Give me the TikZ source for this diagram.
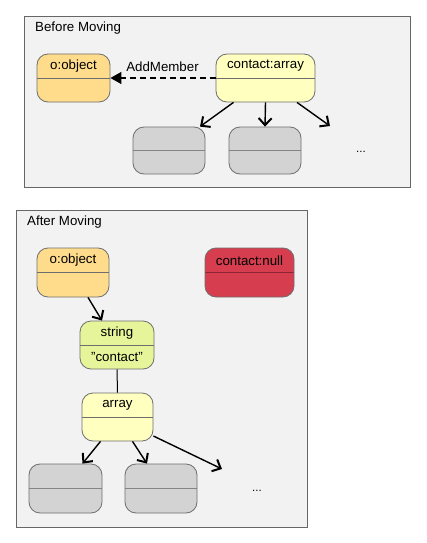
\documentclass[tikz,border=0pt]{standalone}
\usepackage{fontspec}
\setmainfont{Liberation Sans}
\usetikzlibrary{arrows.meta}
\definecolor{framefill}{HTML}{F2F2F2}
\definecolor{framedraw}{HTML}{666666}
\definecolor{boxdraw}{HTML}{6E6E6E}
\definecolor{orangefill}{HTML}{FFDC8C}
\definecolor{yellowfill}{HTML}{FFFFC0}
\definecolor{grayfill}{HTML}{D3D3D3}
\definecolor{redfill}{HTML}{D63E4F}
\definecolor{reddiv}{HTML}{8E2433}
\definecolor{greenfill}{HTML}{E6F59A}
\definecolor{divgray}{HTML}{858585}
\begin{document}
\begin{tikzpicture}[x=1pt,y=-1pt,
  frame/.style={draw=framedraw, fill=framefill, line width=0.8pt},
  title/.style={anchor=west, inner sep=0pt, font=\fontsize{13.3}{15}\selectfont},
  box/.style={draw=boxdraw, fill=#1, rounded corners=11pt, minimum height=48pt, inner sep=0pt, line width=0.8pt},
  divider/.style={path picture={\draw[#1, line width=1pt] (path picture bounding box.west) -- (path picture bounding box.east);}},
  lbl/.style={inner sep=0pt, font=\fontsize{13.3}{15}\selectfont},
  conn/.style={line width=1.4pt, -{Straight Barb[length=7pt,width=13pt,line width=2pt]}},
  plain/.style={line width=1pt},
  dots/.style={inner sep=0pt, font=\fontsize{11.5}{13}\selectfont}
]
\useasboundingbox (0,0) rectangle (427,543);

% ---------- Before Moving ----------
\node[frame, minimum width=386pt, minimum height=171pt, inner sep=0pt] (f1) at (217,101.5) {};
\node[title] (t1) at (35,28) {Before Moving};

\node[box=orangefill, divider=boxdraw, minimum width=73pt] (obj1) at (73.5,78) {};
\node[lbl] (obj1t) at ([yshift=12pt]obj1.center) {o:object};

\node[box=yellowfill, divider=boxdraw, minimum width=99pt] (arr1) at (265.5,78) {};
\node[lbl] (arr1t) at ([yshift=12pt]arr1.center) {contact:array};

\node[box=grayfill, divider=divgray, minimum width=72pt, minimum height=47pt] (g1) at (169,150.5) {};
\node[box=grayfill, divider=divgray, minimum width=72pt, minimum height=47pt] (g2) at (265,150.5) {};
\node[dots] (d1) at (361,152) {...};
\coordinate (c1) at (330,126);

\draw[line width=1.2pt, dashed, dash pattern=on 6pt off 4pt, -{Triangle[length=11pt,width=12pt]}] (arr1.west) -- (obj1.east);
\node[lbl] (am) at (162.5,67) {AddMember};

\draw[conn] ([xshift=-32pt]arr1.south) -- ([xshift=31pt]g1.north);
\draw[conn] (arr1.south) -- (g2.north);
\draw[conn] ([xshift=31.5pt]arr1.south) -- (c1);

% ---------- After Moving ----------
\node[frame, minimum width=291pt, minimum height=317pt, inner sep=0pt] (f2) at (161.5,368.5) {};
\node[title] (t2) at (27,222) {After Moving};

\node[box=orangefill, divider=boxdraw, minimum width=72pt, minimum height=49pt] (obj2) at (73,272.5) {};
\node[lbl] (obj2t) at ([yshift=12pt]obj2.center) {o:object};

\node[box=redfill, divider=reddiv, minimum width=89pt, minimum height=49pt] (null) at (249.5,272.5) {};
\node[lbl] (nullt) at ([yshift=12pt]null.center) {contact:null};

\node[box=greenfill, divider=boxdraw, minimum width=74pt] (str) at (117,345) {};
\node[lbl] (strt) at ([yshift=12pt]str.center) {string};
\node[lbl] (strv) at ([yshift=-12pt]str.center) {"contact"};

\node[box=yellowfill, divider=boxdraw, minimum width=71pt] (arr2) at (117.5,417) {};
\node[lbl] (arr2t) at ([yshift=12pt]arr2.center) {array};

\node[box=grayfill, divider=divgray, minimum width=73pt, minimum height=49pt] (g3) at (65.5,488.5) {};
\node[box=grayfill, divider=divgray, minimum width=72pt, minimum height=49pt] (g4) at (161,488.5) {};
\node[dots] (d2) at (257,491) {...};
\coordinate (c2) at (222,469);

\draw[conn] ([xshift=15pt]obj2.south) -- ([xshift=-15pt]str.north);
\draw[plain] (str.south) -- (arr2.north);
\draw[conn] ([xshift=-17pt]arr2.south) -- ([xshift=17pt]g3.north);
\draw[conn] ([xshift=15pt]arr2.south) -- ([xshift=-14pt]g4.north);
\draw[conn] ([yshift=-19pt]arr2.east) -- (c2);
\end{tikzpicture}
\end{document}
